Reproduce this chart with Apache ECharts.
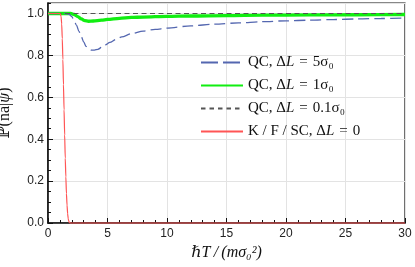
<!DOCTYPE html>
<html>
<head>
<meta charset="utf-8">
<script src="https://cdn.jsdelivr.net/npm/echarts@6/dist/echarts.min.js"></script>
<style>html,body{margin:0;padding:0;background:#fff;}#c{width:415px;height:267px;}</style>
</head>
<body>
<div id="c"></div>
<script>
var xTicks = [0, 5, 10, 15, 20, 25, 30];
var yTicks = [0.0, 0.2, 0.4, 0.6, 0.8, 1.0];

var qc5 = [[0,1],[1.5,1],[1.8,0.995],[2.0,0.985],[2.2,0.965],[2.4,0.943],[2.6,0.915],[2.8,0.889],[3.0,0.864],[3.2,0.843],[3.4,0.831],[3.65,0.825],[3.9,0.825],[4.2,0.829],[4.5,0.838],[4.8,0.85],[5.2,0.862],[5.7,0.876],[6.2,0.888],[7,0.903],[8,0.916],[9,0.924],[10,0.93],[12,0.941],[14,0.949],[16,0.955],[18,0.961],[20,0.965],[22,0.968],[24,0.971],[26,0.974],[28,0.976],[30,0.978]];
var qc1 = [[0,1],[1.9,1],[2.2,0.995],[2.5,0.985],[2.8,0.974],[3.1,0.966],[3.4,0.963],[3.8,0.964],[4.5,0.968],[5,0.972],[6,0.977],[7,0.981],[8,0.983],[10,0.986],[12,0.988],[15,0.99],[18,0.992],[22,0.993],[26,0.994],[30,0.995]];
var qc01 = [[0,1],[30,1]];
var kfsc = [[0,1],[1.0,1],[1.05,0.997],[1.1,0.985],[1.15,0.95],[1.2,0.88],[1.25,0.78],[1.3,0.66],[1.35,0.54],[1.4,0.42],[1.45,0.31],[1.5,0.22],[1.55,0.14],[1.6,0.085],[1.65,0.045],[1.7,0.02],[1.75,0.008],[1.8,0.002],[1.9,0],[30,0]];

var eq = ' \u200a=\u200a ';
var names = ['QC, Δ{i|L}' + eq + '5σ₀', 'QC, Δ{i|L}' + eq + '1σ₀', 'QC, Δ{i|L}' + eq + '0.1σ₀', 'K / F / SC, Δ{i|L}' + eq + '0'];
var keys = ['a', 'b', 'c', 'd'];

var chart = echarts.init(document.getElementById('c'), null, {renderer: 'canvas'});
var serif = '"Liberation Serif","DejaVu Serif",serif';
var sans = '"Liberation Sans",Arial,sans-serif';

chart.setOption({
  animation: false,
  backgroundColor: '#fff',
  grid: {left: 48, right: 10, top: 3, bottom: 44, containLabel: false, outerBoundsMode: 'none',
    show: true, borderColor: '#111', borderWidth: 1.2, backgroundColor: 'transparent'},
  legend: {
    orient: 'vertical', left: 195, top: 50, itemWidth: 42, itemHeight: 14, itemGap: 8,
    itemStyle: {opacity: 0},
    formatter: function (n) { return names[keys.indexOf(n)]; },
    textStyle: {fontFamily: serif, fontSize: 15, color: '#111', lineHeight: 14,
      rich: {i: {fontFamily: serif, fontStyle: 'italic', fontSize: 15, color: '#111', lineHeight: 14}}},
    data: [
      {name: 'a', lineStyle: {type: [17, 5]}},
      {name: 'b'},
      {name: 'c', lineStyle: {type: [4.5, 4]}},
      {name: 'd'}
    ]
  },
  xAxis: {
    type: 'value', min: 0, max: 30, interval: 5,
    name: 'ℏ{i|T}\u2009/\u2009({i|m}{i|σ}₀²)', nameLocation: 'middle', nameGap: 18,
    nameTextStyle: {fontFamily: serif, fontSize: 16, fontStyle: 'italic', color: '#111',
      rich: {i: {fontFamily: serif, fontSize: 16, fontStyle: 'italic', color: '#111'}}},
    axisLine: {show: true, onZero: false, lineStyle: {color: '#111', width: 1.6}},
    axisTick: {show: true, inside: true, length: 5, lineStyle: {color: '#111', width: 1}},
    minorTick: {show: true, splitNumber: 5, length: 3, lineStyle: {color: '#111', width: 1}},
    axisLabel: {fontFamily: sans, fontSize: 12, color: '#222', margin: 5,
      formatter: function (v) { return xTicks.indexOf(v) >= 0 ? String(v) : ''; }},
    splitLine: {show: true, lineStyle: {color: '#e3e3e3', width: 1}}
  },
  yAxis: [{
    type: 'value', min: 0, max: 1.05, interval: 0.2,
    name: 'ℙ(na|{i|ψ})', nameLocation: 'middle', nameGap: 35,
    nameTextStyle: {fontFamily: serif, fontSize: 16, color: '#111',
      rich: {i: {fontFamily: serif, fontSize: 16, fontStyle: 'italic', color: '#111'}}},
    axisLine: {show: true, onZero: false, lineStyle: {color: '#111', width: 1.6}},
    axisTick: {show: true, inside: true, length: 5, lineStyle: {color: '#111', width: 1}},
    axisLabel: {fontFamily: sans, fontSize: 12, color: '#222', margin: 4, showMaxLabel: false,
      formatter: function (v) {
        for (var k = 0; k < yTicks.length; k++) { if (Math.abs(yTicks[k] - v) < 1e-6) return yTicks[k].toFixed(1); }
        return '';
      }},
    splitLine: {show: true, lineStyle: {color: '#e3e3e3', width: 1}}
  }, {
    type: 'value', min: 0, max: 1.05, interval: 0.05, position: 'left', offset: 0,
    axisLine: {show: false},
    axisTick: {show: true, inside: true, length: 3, lineStyle: {color: '#111', width: 1}},
    axisLabel: {show: false},
    splitLine: {show: false}
  }],
  series: [
    {name: 'a', type: 'line', data: qc5, symbol: 'none', smooth: 0.3, smoothMonotone: 'x',
      lineStyle: {color: '#5467b0', width: 1.3, type: [11, 5]}, itemStyle: {color: '#5467b0'}, z: 3},
    {name: 'b', type: 'line', data: qc1, symbol: 'none', smooth: 0.3, smoothMonotone: 'x',
      lineStyle: {color: '#11ee11', width: 3.3}, itemStyle: {color: '#11ee11'}, z: 2},
    {name: 'c', type: 'line', data: qc01, symbol: 'none',
      lineStyle: {color: '#555', width: 1.2, type: [5, 3.5]}, itemStyle: {color: '#555'}, z: 4},
    {name: 'd', type: 'line', data: kfsc, symbol: 'none', smooth: 0.2, smoothMonotone: 'x', clip: false,
      lineStyle: {color: '#ff5555', width: 1.2}, itemStyle: {color: '#ff5555'}, z: 5}
  ]
});
</script>
</body>
</html>
